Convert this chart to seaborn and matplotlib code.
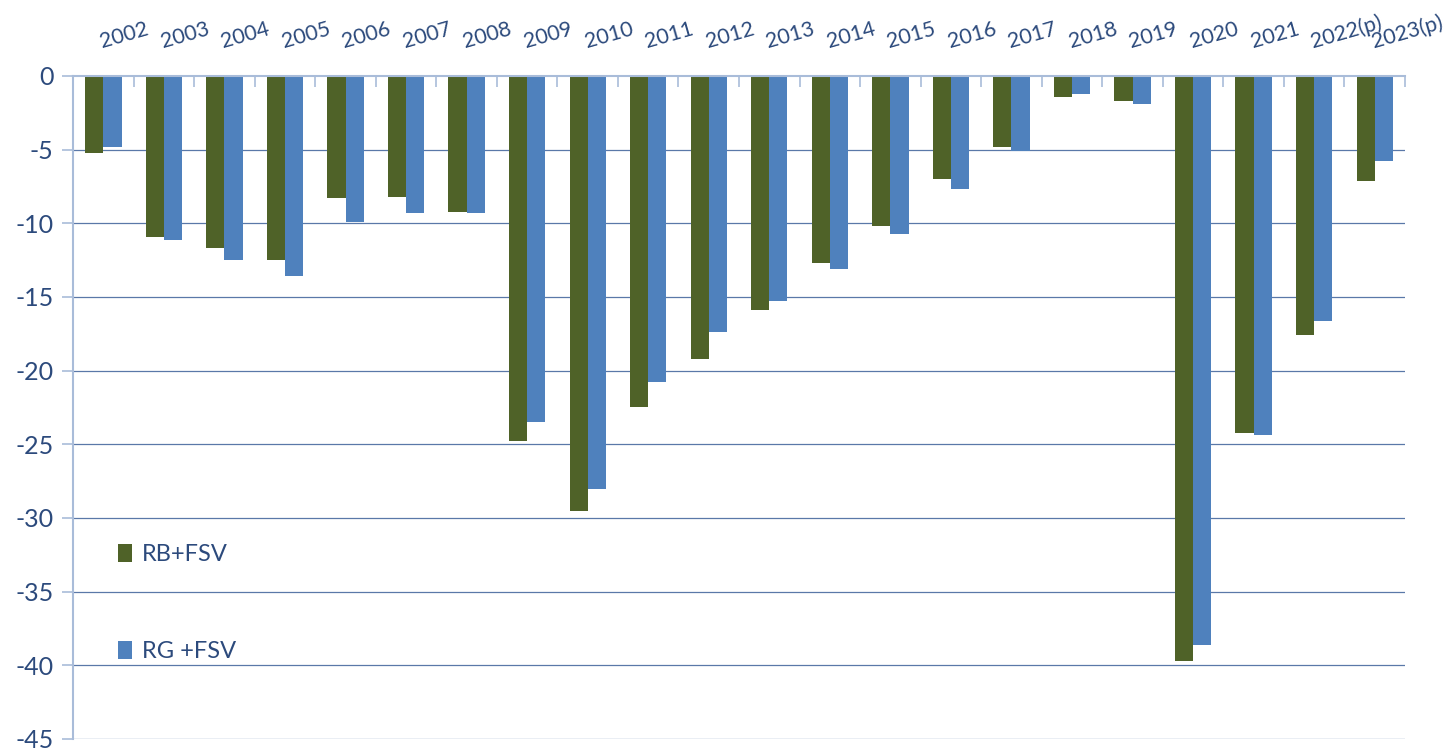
import matplotlib
matplotlib.use("Agg")
import matplotlib.pyplot as plt
import seaborn as sns
import pandas as pd

years = ["2002", "2003", "2004", "2005", "2006", "2007", "2008", "2009", "2010", "2011",
         "2012", "2013", "2014", "2015", "2016", "2017", "2018", "2019", "2020", "2021",
         "2022(p)", "2023(p)"]
rb_fsv = [-5.2, -10.9, -11.7, -12.5, -8.3, -8.2, -9.2, -24.8, -29.5, -22.5,
          -19.2, -15.9, -12.7, -10.2, -7.0, -4.8, -1.4, -1.7, -39.7, -24.2,
          -17.6, -7.1]
rg_fsv = [-4.8, -11.1, -12.5, -13.6, -9.9, -9.3, -9.3, -23.5, -28.0, -20.8,
          -17.4, -15.3, -13.1, -10.7, -7.7, -5.1, -1.2, -1.9, -38.6, -24.4,
          -16.6, -5.8]
series_names = ["RB+FSV", "RG +FSV"]
y_ticks = [0, -5, -10, -15, -20, -25, -30, -35, -40, -45]

df = pd.DataFrame({
    "year": years * 2,
    "value": rb_fsv + rg_fsv,
    "series": [series_names[0]] * len(years) + [series_names[1]] * len(years),
})

sns.set_theme(style="white")
plt.rcParams["font.family"] = ["Lato", "DejaVu Sans"]

text_color = "#2c4a7c"
spine_color = "#a9bcd9"
grid_color = "#5a78a8"

fig = plt.figure(figsize=(14.44, 7.52), dpi=100)
ax = fig.add_axes([0.0506, 0.0173, 0.9224, 0.8817])

sns.barplot(data=df, x="year", y="value", hue="series", order=years,
            hue_order=series_names, palette=["#4f6228", "#4f81bd"],
            saturation=1, width=0.6, ax=ax, edgecolor="none", linewidth=0)

ax.set_xlim(-0.5, len(years) - 0.5)
ax.set_ylim(-45, 0)
ax.set_yticks(y_ticks)
ax.set_yticklabels([str(v) for v in y_ticks], fontsize=18, color=text_color)
ax.set_xlabel("")
ax.set_ylabel("")

for v in y_ticks[1:]:
    ax.axhline(v, color=grid_color, lw=0.9, zorder=0)

ax.xaxis.tick_top()
ax.set_xticks([i - 0.5 for i in range(len(years) + 1)])
ax.set_xticklabels([])
ax.set_xticks(range(len(years)), minor=True)
ax.set_xticklabels(years, minor=True, rotation=16, ha="left",
                   rotation_mode="anchor", fontsize=15.5, color=text_color)
ax.tick_params(axis="x", which="major", direction="in", length=8, width=1.2,
               color=spine_color, top=True, bottom=False)
ax.tick_params(axis="x", which="minor", length=0, pad=17, top=True, bottom=False)
ax.tick_params(axis="y", which="major", direction="out", length=8, width=1.2,
               color=spine_color, left=True, pad=6)

for side in ["right", "bottom"]:
    ax.spines[side].set_visible(False)
for side in ["top", "left"]:
    ax.spines[side].set_color(spine_color)
    ax.spines[side].set_linewidth(1.5)

leg = ax.legend(loc="upper left", bbox_to_anchor=(0.018, 0.326), frameon=False,
                fontsize=17, handlelength=0.6, handleheight=0.8,
                handletextpad=0.4, labelspacing=3.2)
for t in leg.get_texts():
    t.set_color(text_color)

fig.savefig("out.png", dpi=100)
